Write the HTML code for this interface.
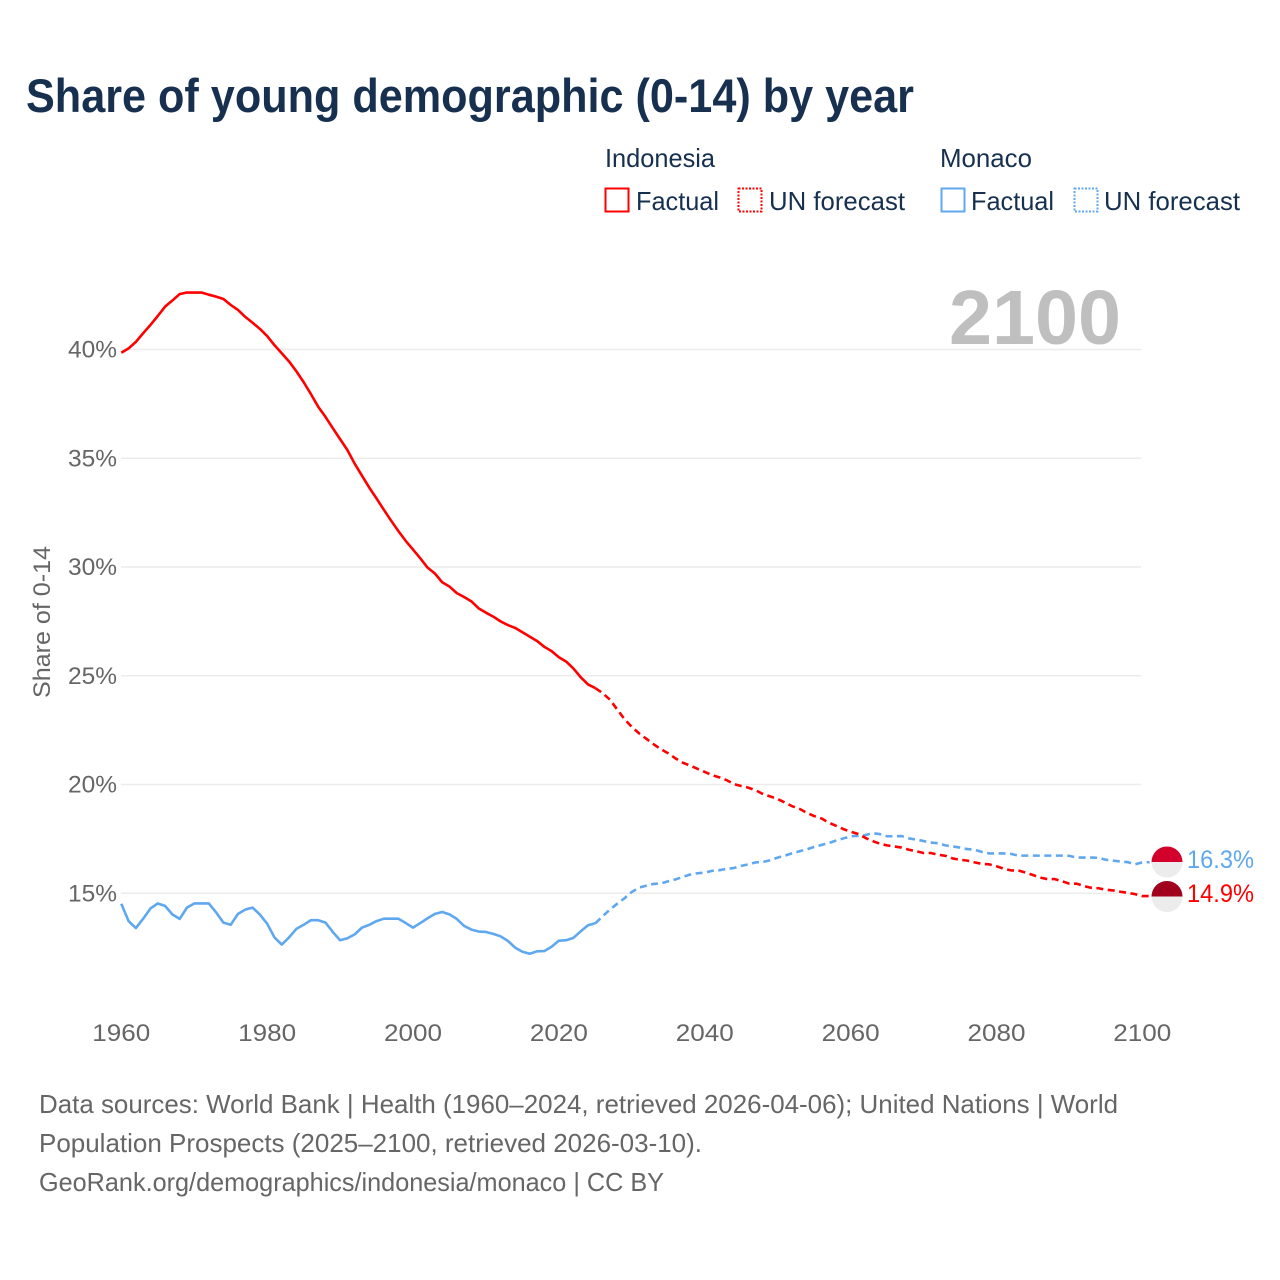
<!DOCTYPE html>
<html lang="en">
<head>
<meta charset="utf-8">
<title>Share of young demographic (0-14) by year</title>
<style>
html,body{margin:0;padding:0;background:#fff;width:1280px;height:1280px;overflow:hidden}
svg{display:block;font-family:"Liberation Sans",sans-serif}
</style>
</head>
<body>
<svg id="chart" width="1280" height="1280" viewBox="0 0 1280 1280" xmlns="http://www.w3.org/2000/svg">
<rect x="0" y="0" width="1280" height="1280" fill="#fff"/>
<text x="26" y="112" font-size="47" font-weight="700" fill="#17304f" textLength="888" lengthAdjust="spacingAndGlyphs">Share of young demographic (0-14) by year</text>

<g fill="#17304f" font-size="26">
<text x="605" y="167" textLength="110" lengthAdjust="spacingAndGlyphs">Indonesia</text>
<rect x="605.5" y="188.5" width="23" height="23" fill="none" stroke="#ff0000" stroke-width="2"/>
<text x="636" y="210" textLength="83" lengthAdjust="spacingAndGlyphs">Factual</text>
<rect x="738.5" y="188.5" width="23" height="23" fill="none" stroke="#ff0000" stroke-width="2" stroke-dasharray="2 1.5"/>
<text x="769" y="210" textLength="136" lengthAdjust="spacingAndGlyphs">UN forecast</text>
<text x="940" y="167" textLength="92" lengthAdjust="spacingAndGlyphs">Monaco</text>
<rect x="941.5" y="188.5" width="23" height="23" fill="none" stroke="#5fa8ef" stroke-width="2"/>
<text x="971" y="210" textLength="83" lengthAdjust="spacingAndGlyphs">Factual</text>
<rect x="1074.5" y="188.5" width="23" height="23" fill="none" stroke="#5fa8ef" stroke-width="2" stroke-dasharray="2 1.5"/>
<text x="1104" y="210" textLength="136" lengthAdjust="spacingAndGlyphs">UN forecast</text>
</g>

<text transform="translate(50,698) rotate(-90)" font-size="24" fill="#666" textLength="152" lengthAdjust="spacingAndGlyphs">Share of 0-14</text>

<g id="grid"></g>
<text x="949" y="344" font-size="77" font-weight="700" fill="#bfbfbf" textLength="172" lengthAdjust="spacingAndGlyphs">2100</text>
<g id="yticks"></g>
<g id="xticks"></g>
<g id="lines"></g>

<g>
<circle cx="1167" cy="862" r="15.5" fill="#ececec"/>
<path d="M1151.5 862 A15.5 15.5 0 0 1 1182.5 862 Z" fill="#d2002a"/>
</g>
<g>
<circle cx="1167" cy="896.5" r="15.5" fill="#ececec"/>
<path d="M1151.5 896.5 A15.5 15.5 0 0 1 1182.5 896.5 Z" fill="#a0001e"/>
</g>
<text x="1187" y="868" font-size="25" fill="#5fa8ef" textLength="67" lengthAdjust="spacingAndGlyphs">16.3%</text>
<text x="1187" y="902" font-size="25" fill="#ff0000" textLength="67" lengthAdjust="spacingAndGlyphs">14.9%</text>

<g font-size="26" fill="#666">
<text x="39" y="1113" textLength="1079" lengthAdjust="spacingAndGlyphs">Data sources: World Bank | Health (1960–2024, retrieved 2026-04-06); United Nations | World</text>
<text x="39" y="1152" textLength="663" lengthAdjust="spacingAndGlyphs">Population Prospects (2025–2100, retrieved 2026-03-10).</text>
<text x="39" y="1191" textLength="625" lengthAdjust="spacingAndGlyphs">GeoRank.org/demographics/indonesia/monaco | CC BY</text>
</g>
</svg>
<script>
const yTickValues = [15, 20, 25, 30, 35, 40];
const yTickLabels = ["15%", "20%", "25%", "30%", "35%", "40%"];
const xTickValues = [1960, 1980, 2000, 2020, 2040, 2060, 2080, 2100];
const xTickLabels = ["1960", "1980", "2000", "2020", "2040", "2060", "2080", "2100"];
const factualStartYear = 1960;
const forecastStartYear = 2025;
const indonesiaFactual = [
39.85,40.05,40.35,40.75,41.13,41.54,41.97,42.25,42.55,42.62,
42.62,42.62,42.52,42.43,42.32,42.05,41.82,41.5,41.23,40.95,
40.62,40.2,39.83,39.45,39.0,38.5,37.95,37.37,36.9,36.38,
35.88,35.38,34.75,34.2,33.65,33.15,32.63,32.13,31.65,31.2,
30.8,30.4,29.97,29.7,29.3,29.1,28.8,28.62,28.42,28.1,
27.9,27.72,27.5,27.33,27.2,27.0,26.8,26.6,26.33,26.13,
25.85,25.65,25.33,24.93,24.6,24.43];
const indonesiaForecast = [
24.43,24.2,23.9,23.45,23.0,22.65,22.35,22.1,21.85,21.62,
21.43,21.2,21.0,20.87,20.72,20.58,20.43,20.33,20.2,20.02,
19.93,19.85,19.73,19.56,19.45,19.33,19.17,19.0,18.88,18.7,
18.55,18.44,18.25,18.1,17.95,17.83,17.73,17.55,17.4,17.28,
17.2,17.15,17.1,17.0,16.93,16.85,16.85,16.77,16.72,16.6,
16.54,16.5,16.42,16.35,16.33,16.24,16.13,16.05,16.05,15.95,
15.84,15.72,15.65,15.65,15.55,15.44,15.44,15.33,15.25,15.23,
15.16,15.13,15.07,15.02,14.96,14.87,14.87];
const monacoFactual = [
14.52,13.72,13.4,13.83,14.3,14.53,14.42,14.03,13.82,14.34,
14.53,14.53,14.53,14.12,13.65,13.55,14.05,14.25,14.34,14.02,
13.6,12.97,12.64,12.97,13.36,13.55,13.76,13.76,13.65,13.22,
12.84,12.93,13.11,13.42,13.55,13.72,13.83,13.83,13.83,13.63,
13.42,13.63,13.85,14.05,14.14,14.03,13.82,13.5,13.33,13.24,
13.22,13.13,13.02,12.81,12.5,12.31,12.22,12.33,12.34,12.54,
12.82,12.84,12.95,13.25,13.53,13.62];
const monacoForecast = [
13.62,13.94,14.25,14.52,14.77,15.06,15.26,15.35,15.43,15.45,
15.55,15.64,15.75,15.86,15.92,15.95,16.03,16.06,16.12,16.16,
16.26,16.33,16.42,16.44,16.52,16.64,16.73,16.84,16.93,17.02,
17.13,17.22,17.31,17.42,17.52,17.62,17.64,17.67,17.76,17.72,
17.62,17.62,17.63,17.52,17.47,17.4,17.33,17.3,17.2,17.15,
17.1,17.03,17.0,16.9,16.83,16.83,16.83,16.81,16.73,16.73,
16.73,16.73,16.73,16.73,16.73,16.72,16.64,16.64,16.64,16.63,
16.54,16.5,16.46,16.43,16.33,16.42,16.43];

const SVG_NS = "http://www.w3.org/2000/svg";
function xScale(year) { return 121.3 + (year - 1960) * 7.293; }
function yScale(value) { return 349.5 + (40 - value) * 21.75; }
function linePath(values, startYear) {
  return values.map(function (v, i) {
    return (i ? "L" : "M") + xScale(startYear + i).toFixed(2) + " " + yScale(v).toFixed(2);
  }).join(" ");
}

const gridGroup = document.getElementById("grid");
const yTickGroup = document.getElementById("yticks");
const xTickGroup = document.getElementById("xticks");
const lineGroup = document.getElementById("lines");

yTickValues.forEach(function (v, i) {
  const grid = document.createElementNS(SVG_NS, "line");
  
  
  grid.setAttribute("x1", 121);
  grid.setAttribute("x2", 1141);
  grid.setAttribute("y1", yScale(v));
  grid.setAttribute("y2", yScale(v));
  grid.setAttribute("stroke", "#ececec");
  grid.setAttribute("stroke-width", "1.6");
  gridGroup.appendChild(grid);

  const label = document.createElementNS(SVG_NS, "text");
  
  
  label.setAttribute("x", 68);
  label.setAttribute("y", yScale(v) + 8);
  label.setAttribute("font-size", "24");
  label.setAttribute("fill", "#666");
  label.setAttribute("textLength", "49");
  label.setAttribute("lengthAdjust", "spacingAndGlyphs");
  label.textContent = yTickLabels[i];
  yTickGroup.appendChild(label);
});

xTickValues.forEach(function (year, i) {
  const label = document.createElementNS(SVG_NS, "text");
  
  
  label.setAttribute("x", xScale(year) - 29);
  label.setAttribute("y", 1041);
  label.setAttribute("font-size", "24");
  label.setAttribute("fill", "#666");
  label.setAttribute("textLength", "58");
  label.setAttribute("lengthAdjust", "spacingAndGlyphs");
  label.textContent = xTickLabels[i];
  xTickGroup.appendChild(label);
});

function addLine(values, startYear, color, dashed, name) {
  const path = document.createElementNS(SVG_NS, "path");
  
  
  path.setAttribute("d", linePath(values, startYear));
  path.setAttribute("fill", "none");
  path.setAttribute("stroke", color);
  path.setAttribute("stroke-width", "2.6");
  path.setAttribute("stroke-linejoin", "round");
  if (dashed) path.setAttribute("stroke-dasharray", "7 4.5");
  lineGroup.appendChild(path);
}
addLine(monacoFactual, factualStartYear, "#5fa8ef", false, "line-monaco-factual");
addLine(monacoForecast, forecastStartYear, "#5fa8ef", true, "line-monaco-forecast");
addLine(indonesiaFactual, factualStartYear, "#ff0000", false, "line-indonesia-factual");
addLine(indonesiaForecast, forecastStartYear, "#ff0000", true, "line-indonesia-forecast");
</script>
</body>
</html>
